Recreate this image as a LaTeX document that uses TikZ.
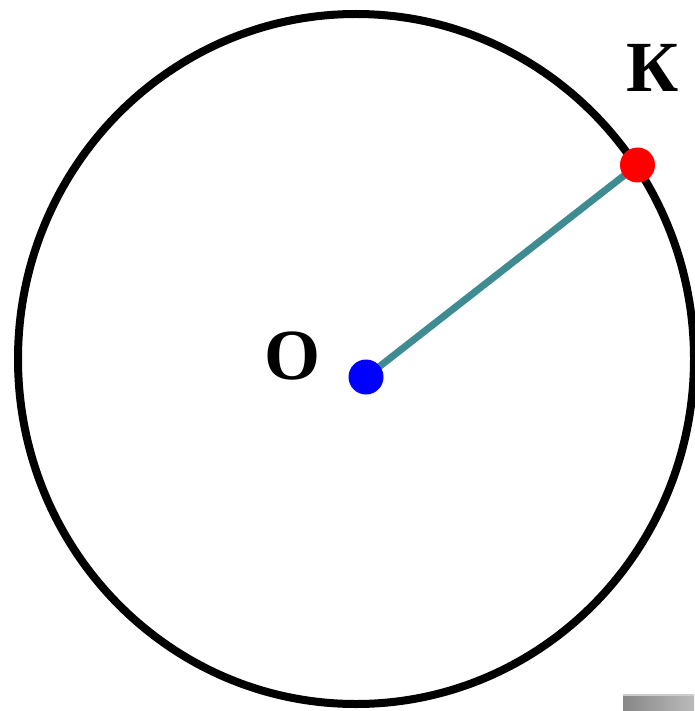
\documentclass[tikz,border=0pt]{standalone}
\usepackage{fontspec}
\setmainfont{Liberation Serif}
\definecolor{tealline}{RGB}{62,140,145}
\begin{document}
\begin{tikzpicture}[x=1pt,y=-1pt,
  rim/.style={draw=black,line width=8pt},
  radius line/.style={draw=tealline,line width=7pt},
  dotmark/.style={circle,inner sep=0pt,minimum size=35pt},
  lbl/.style={inner sep=0pt,font=\fontsize{72}{72}\selectfont\bfseries}]
\useasboundingbox (0,0) rectangle (694,711);
\draw[rim] (356,359) ellipse [x radius=338, y radius=345];
\node[dotmark] (o) at (366,377) {};
\node[dotmark] (k) at (637.5,165) {};
\draw[radius line] (o.center) -- (k.center);
\fill[blue] (o) circle[radius=17.5];
\fill[red] (k) circle[radius=17.5];
\node[lbl] (ol) at (292.5,356.5) {О};
\node[lbl] (kl) at (652.5,68) {К};
\shade[left color=black!47, right color=black!27] (623,695) rectangle (694,711);
\fill[black!20] (623,694) rectangle (694,695.5);
\end{tikzpicture}
\end{document}
